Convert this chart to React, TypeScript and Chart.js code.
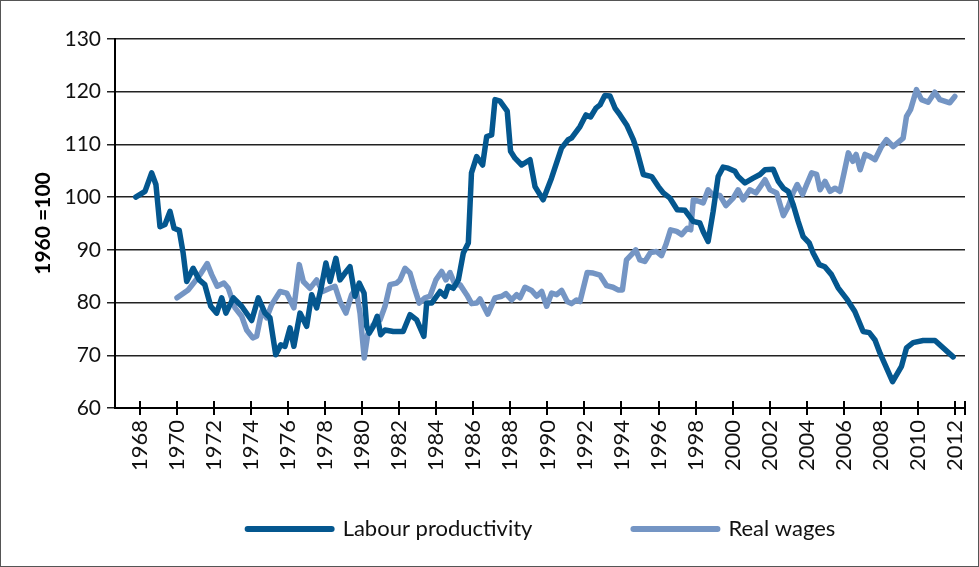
import React, { useEffect, useRef } from "react";
import { Chart, registerables } from "chart.js";

Chart.register(...registerables);

const seriesLabels = ["Labour productivity", "Real wages"];
const yAxisTitle = "1960 =100";
const xTickYears = [1968, 1970, 1972, 1974, 1976, 1978, 1980, 1982, 1984, 1986, 1988, 1990, 1992, 1994, 1996, 1998, 2000, 2002, 2004, 2006, 2008, 2010, 2012];

const prodYears = [
  1967.77, 1968.27, 1968.63, 1968.86, 1969.08, 1969.35, 1969.62, 1969.84, 1970.12, 1970.33,
  1970.52, 1970.87, 1971.2, 1971.5, 1971.82, 1972.14, 1972.41, 1972.64, 1973.04, 1973.49,
  1974.03, 1974.39, 1974.75, 1975.02, 1975.33, 1975.6, 1975.83, 1976.1, 1976.31, 1976.64,
  1977.0, 1977.27, 1977.54, 1977.8, 1978.04, 1978.26, 1978.58, 1978.8, 1979.07, 1979.34,
  1979.61, 1979.84, 1980.1, 1980.24, 1980.38, 1980.6, 1980.81, 1981.0, 1981.23, 1981.68,
  1982.21, 1982.58, 1982.94, 1983.33, 1983.48, 1983.75, 1984.2, 1984.47, 1984.65, 1984.92,
  1985.19, 1985.46, 1985.73, 1985.9, 1986.18, 1986.5, 1986.72, 1986.99, 1987.17, 1987.44,
  1987.83, 1988.01, 1988.25, 1988.61, 1989.06, 1989.33, 1989.77, 1990.22, 1990.76, 1991.12,
  1991.3, 1991.76, 1992.08, 1992.33, 1992.62, 1992.84, 1993.1, 1993.38, 1993.65, 1993.92,
  1994.28, 1994.64, 1994.82, 1995.18, 1995.63, 1995.99, 1996.26, 1996.62, 1997.01, 1997.43,
  1997.6, 1997.87, 1998.23, 1998.41, 1998.68, 1998.95, 1999.22, 1999.49, 1999.76, 2000.13,
  2000.3, 2000.67, 2001.11, 2001.48, 2001.75, 2002.19, 2002.47, 2002.74, 2003.0, 2003.27,
  2003.54, 2003.81, 2004.14, 2004.35, 2004.68, 2004.98, 2005.34, 2005.7, 2006.2, 2006.6,
  2007.05, 2007.38, 2007.69, 2007.96, 2008.64, 2009.12, 2009.39, 2009.75, 2010.29, 2010.93,
  2011.91,
];
const prodValues = [
  100.0, 101.1, 104.6, 102.4, 94.4, 94.8, 97.3, 94.1, 93.7, 89.4,
  84.0, 86.5, 84.3, 83.4, 79.3, 78.0, 80.9, 78.0, 80.9, 79.3,
  76.6, 80.9, 78.0, 77.1, 70.1, 72.0, 71.7, 75.2, 71.7, 78.0,
  75.5, 81.5, 79.0, 83.1, 87.5, 84.0, 88.4, 84.3, 85.6, 86.8,
  81.2, 83.7, 81.8, 75.5, 74.2, 75.5, 77.4, 73.9, 74.8, 74.5,
  74.5, 77.7, 76.7, 73.6, 79.9, 79.9, 82.1, 81.2, 83.1, 82.7,
  84.3, 89.4, 91.3, 104.6, 107.7, 106.1, 111.5, 111.8, 118.5, 118.2,
  116.3, 108.7, 107.4, 106.1, 107.1, 102.0, 99.5, 103.6, 109.3, 110.9,
  111.2, 113.4, 115.6, 115.2, 116.9, 117.5, 119.3, 119.2, 116.9, 115.6,
  113.7, 110.9, 109.0, 104.3, 103.9, 102.0, 100.8, 99.8, 97.6, 97.5,
  96.7, 95.4, 95.1, 93.5, 91.6, 97.3, 103.9, 105.7, 105.5, 104.9,
  103.9, 102.7, 103.6, 104.3, 105.2, 105.3, 103.0, 101.7, 101.1, 98.6,
  95.4, 92.5, 91.3, 89.4, 87.2, 86.8, 85.3, 82.8, 80.5, 78.3,
  74.5, 74.3, 72.9, 70.4, 65.0, 67.9, 71.4, 72.4, 72.8, 72.8,
  69.7,
];

const wageYears = [
  1970.0, 1970.6, 1970.96, 1971.24, 1971.63, 1971.87, 1972.17, 1972.53, 1972.77, 1973.13,
  1973.49, 1973.76, 1974.09, 1974.3, 1974.57, 1974.84, 1975.11, 1975.56, 1975.92, 1976.31,
  1976.6, 1976.82, 1977.18, 1977.54, 1977.86, 1978.26, 1978.53, 1978.8, 1979.12, 1979.43,
  1979.66, 1979.88, 1980.11, 1980.3, 1980.6, 1980.96, 1981.23, 1981.5, 1981.86, 1982.04,
  1982.31, 1982.58, 1982.85, 1983.08, 1983.39, 1983.66, 1983.98, 1984.29, 1984.52, 1984.74,
  1985.01, 1985.28, 1985.64, 1985.91, 1986.18, 1986.36, 1986.78, 1987.17, 1987.53, 1987.76,
  1988.07, 1988.34, 1988.52, 1988.79, 1989.15, 1989.42, 1989.69, 1989.96, 1990.23, 1990.5,
  1990.77, 1991.07, 1991.3, 1991.57, 1991.76, 1992.15, 1992.47, 1992.84, 1993.2, 1993.54,
  1993.81, 1994.05, 1994.27, 1994.54, 1994.77, 1994.99, 1995.26, 1995.57, 1995.89, 1996.16,
  1996.4, 1996.65, 1996.98, 1997.25, 1997.55, 1997.74, 1997.88, 1998.2, 1998.41, 1998.68,
  1998.92, 1999.32, 1999.64, 2000.03, 2000.3, 2000.57, 2000.93, 2001.26, 2001.48, 2001.75,
  2002.02, 2002.38, 2002.74, 2003.0, 2003.27, 2003.49, 2003.78, 2004.0, 2004.27, 2004.54,
  2004.72, 2004.99, 2005.26, 2005.53, 2005.8, 2006.02, 2006.25, 2006.49, 2006.67, 2006.89,
  2007.15, 2007.42, 2007.69, 2008.04, 2008.31, 2008.67, 2009.21, 2009.39, 2009.61, 2009.93,
  2010.2, 2010.56, 2010.92, 2011.19, 2011.73, 2012.0,
];
const wageValues = [
  80.9, 82.4, 84.0, 85.3, 87.4, 85.3, 83.1, 83.7, 82.7, 79.0,
  77.4, 74.8, 73.3, 73.6, 78.3, 77.1, 79.6, 82.1, 81.8, 79.0,
  87.2, 84.0, 82.7, 84.3, 82.1, 82.7, 83.1, 80.2, 78.0, 81.5,
  82.7, 78.0, 69.5, 74.0, 75.8, 76.7, 79.3, 83.4, 83.7, 84.3,
  86.5, 85.6, 82.4, 79.9, 80.9, 81.2, 84.3, 85.9, 84.3, 85.7,
  83.4, 83.4, 81.5, 79.8, 79.9, 80.7, 77.8, 80.9, 81.2, 81.7,
  80.5, 81.5, 80.9, 82.9, 82.3, 81.2, 82.1, 79.3, 81.8, 81.5,
  82.3, 80.2, 79.8, 80.5, 80.2, 85.7, 85.6, 85.2, 83.2, 82.9,
  82.4, 82.4, 88.1, 89.1, 90.0, 88.1, 87.8, 89.5, 89.7, 88.9,
  91.0, 93.8, 93.5, 92.9, 94.1, 93.8, 99.5, 99.2, 98.9, 101.4,
  100.5, 100.3, 98.4, 99.8, 101.4, 99.5, 101.4, 100.8, 101.9, 103.3,
  101.4, 100.8, 96.5, 98.2, 100.8, 102.4, 100.5, 102.4, 104.6, 104.3,
  101.4, 103.0, 101.1, 101.7, 101.1, 104.6, 108.4, 106.8, 108.1, 105.2,
  108.1, 107.7, 107.1, 109.6, 110.9, 109.6, 111.2, 115.3, 116.6, 120.4,
  118.5, 118.0, 119.9, 118.5, 117.9, 119.1,
];

const FONT = "Lato, 'Open Sans', sans-serif";
const DARK = "#04578F";
const LIGHT = "#7495C4";

const crossTicksPlugin = {
  id: "crossTicks",
  afterDraw(chart: any) {
    const { ctx, chartArea } = chart;
    const xs = chart.scales.x;
    ctx.save();
    ctx.strokeStyle = "#000";
    ctx.lineWidth = 2;
    const positions = xs.ticks.map((t: any) => xs.getPixelForValue(t.value));
    positions.push(chartArea.right);
    ctx.beginPath();
    for (const p of positions) {
      const px = Math.round(p);
      ctx.moveTo(px, chartArea.bottom - 7);
      ctx.lineTo(px, chartArea.bottom + 7);
    }
    ctx.stroke();
    ctx.restore();
  },
};

const legendPlugin = {
  id: "lineLegend",
  afterDraw(chart: any) {
    const { ctx, chartArea } = chart;
    const ds = chart.data.datasets;
    const lineLen = 90;
    const gapText = 8;
    const gapItem = 98;
    ctx.save();
    ctx.font = `22px ${FONT}`;
    const widths = ds.map((d: any) => lineLen + gapText + ctx.measureText(d.label).width);
    const total = widths.reduce((a: number, b: number) => a + b, 0) + gapItem * (ds.length - 1);
    let x = (chartArea.left + chartArea.right) / 2 - total / 2;
    const y = 529;
    ds.forEach((d: any, i: number) => {
      ctx.strokeStyle = d.borderColor;
      ctx.lineWidth = 6;
      ctx.lineCap = "round";
      ctx.beginPath();
      ctx.moveTo(x + 3, y);
      ctx.lineTo(x + lineLen - 3, y);
      ctx.stroke();
      ctx.fillStyle = "#111";
      ctx.textBaseline = "middle";
      ctx.textAlign = "left";
      ctx.fillText(d.label, x + lineLen + gapText, y);
      x += widths[i] + gapItem;
    });
    ctx.restore();
  },
};

const framePlugin = {
  id: "frame",
  afterDraw(chart: any) {
    const { ctx, width, height } = chart;
    ctx.save();
    ctx.strokeStyle = "#555";
    ctx.lineWidth = 1;
    ctx.strokeRect(0.5, 0.5, width - 1, height - 1);
    ctx.restore();
  },
};

export default function App() {
  const ref = useRef<HTMLCanvasElement>(null);

  useEffect(() => {
    if (!ref.current) return;
    const chart = new Chart(ref.current, {
      type: "line",
      data: {
        datasets: [
          {
            label: seriesLabels[0],
            data: prodYears.map((x, i) => ({ x, y: prodValues[i] })),
            borderColor: DARK,
            backgroundColor: DARK,
            borderWidth: 5.5,
            pointRadius: 0,
            tension: 0,
            borderJoinStyle: "round",
            borderCapStyle: "round",
          },
          {
            label: seriesLabels[1],
            data: wageYears.map((x, i) => ({ x, y: wageValues[i] })),
            borderColor: LIGHT,
            backgroundColor: LIGHT,
            borderWidth: 5.5,
            pointRadius: 0,
            tension: 0,
            borderJoinStyle: "round",
            borderCapStyle: "round",
          },
        ],
      },
      options: {
        animation: false,
        responsive: false,
        layout: { padding: { top: 39, right: 14, bottom: 95, left: 0 } },
        plugins: {
          legend: { display: false },
          tooltip: { enabled: false },
        },
        scales: {
          x: {
            type: "linear",
            min: 1966.65,
            max: 2012.55,
            afterBuildTicks: (scale: any) => {
              scale.ticks = xTickYears.map((v) => ({ value: v }));
            },
            afterFit: (scale: any) => {
              scale.height = 64;
              scale.paddingLeft = 0;
              scale.paddingRight = 0;
            },
            grid: { display: false, drawTicks: false },
            border: { display: true, color: "#000", width: 2 },
            ticks: {
              autoSkip: false,
              maxRotation: 90,
              minRotation: 90,
              padding: 12,
              color: "#111",
              font: { family: FONT, size: 22 },
              callback: (v: any) => String(v),
            },
          },
          y: {
            min: 60,
            max: 130,
            afterFit: (scale: any) => {
              scale.width = 115;
            },
            ticks: {
              stepSize: 10,
              padding: 6,
              color: "#111",
              font: { family: FONT, size: 21 },
            },
            grid: { color: "#222", lineWidth: 1.5, tickLength: 8, drawTicks: true },
            border: { display: true, color: "#000", width: 2 },
            title: {
              display: true,
              text: yAxisTitle,
              color: "#000",
              font: { family: FONT, size: 21, weight: "bold" },
              padding: { top: 31, bottom: 0 },
            },
          },
        },
      },
      plugins: [crossTicksPlugin, legendPlugin, framePlugin],
    } as any);
    return () => chart.destroy();
  }, []);

  return (
    <div style={{ position: "absolute", left: 0, top: 0, width: 979, height: 567, background: "#fff" }}>
      <canvas ref={ref} width={979} height={567} style={{ display: "block" }} />
    </div>
  );
}
